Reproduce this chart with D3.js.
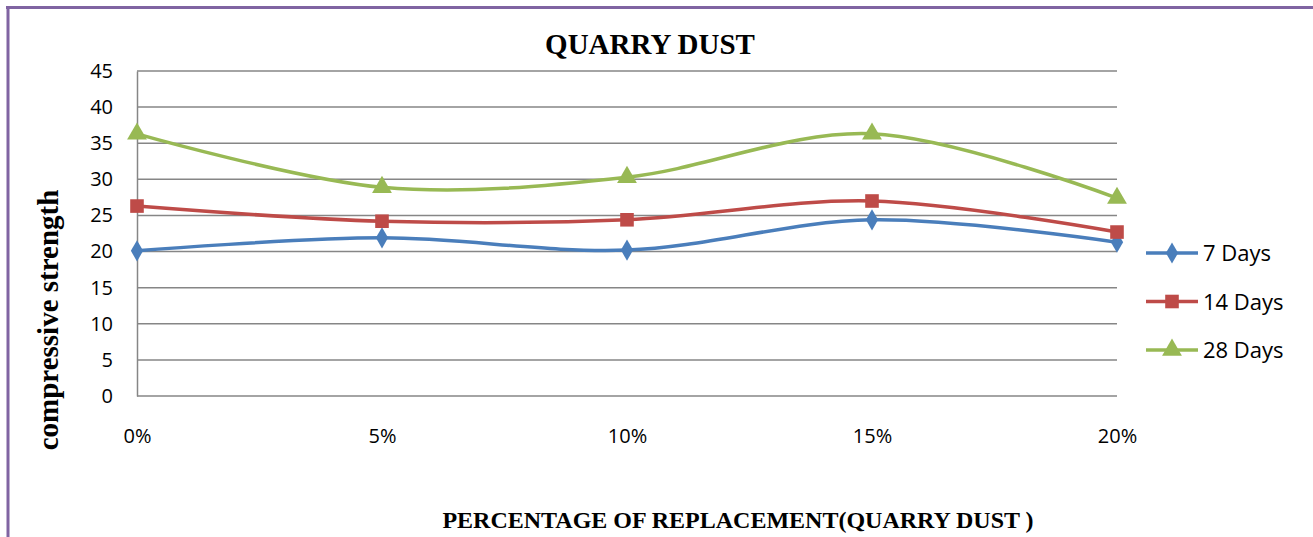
<!DOCTYPE html>
<html>
<head>
<meta charset="utf-8">
<script src="https://cdn.jsdelivr.net/npm/d3@7"></script>
<style>
  body { margin: 0; background: #fff; }
  svg { display: block; }
</style>
</head>
<body>
<svg id="chart" width="1313" height="537"></svg>
<script>
// data
const categories = ["0%", "5%", "10%", "15%", "20%"];
const days7 = [20.1, 21.9, 20.2, 24.4, 21.3];
const days14 = [26.3, 24.2, 24.4, 27.0, 22.7];
const days28 = [36.3, 28.9, 30.3, 36.3, 27.4];
const yTicks = [0, 5, 10, 15, 20, 25, 30, 35, 40, 45];

const series = [
  {name: "7 Days", values: days7, color: "#4A7EBB", marker: d3.symbolDiamond, size: 130},
  {name: "14 Days", values: days14, color: "#BE4B48", marker: d3.symbolSquare, size: 185},
  {name: "28 Days", values: days28, color: "#98B954", marker: d3.symbolTriangle, size: 170}
];

const svg = d3.select("#chart");

// purple frame (top + left edges)
svg.append("rect").attr("x", 0).attr("y", 0).attr("width", 1313).attr("height", 537).attr("fill", "#fff");
svg.append("line").attr("x1", 6).attr("x2", 1313).attr("y1", 7.5).attr("y2", 7.5)
  .attr("stroke", "#8064A2").attr("stroke-width", 3);
svg.append("line").attr("x1", 8).attr("x2", 8).attr("y1", 6).attr("y2", 537)
  .attr("stroke", "#8064A2").attr("stroke-width", 3);

const plot = {left: 137, right: 1117, top: 71, bottom: 396};

const x = d3.scalePoint().domain(categories).range([plot.left, plot.right]);
const y = d3.scaleLinear().domain([0, 45]).range([plot.bottom, plot.top]);

const tickFont = "'Open Sans', sans-serif";
const serif = "'Liberation Serif', 'Times New Roman', serif";

// gridlines
svg.append("g")
  .selectAll("line").data(yTicks).join("line")
  .attr("x1", plot.left).attr("x2", plot.right)
  .attr("y1", d => y(d)).attr("y2", d => y(d))
  .attr("stroke", "#868686").attr("stroke-width", 1.5);

// y axis
const yAxis = svg.append("g").attr("transform", `translate(${plot.left},0)`)
  .call(d3.axisLeft(y).tickValues(yTicks).tickSize(0).tickPadding(24));
yAxis.select(".domain").attr("stroke", "#868686").attr("stroke-width", 1.5);
yAxis.selectAll("text").attr("font-family", tickFont).attr("font-size", 20).attr("fill", "#000");

// x axis labels
const xAxis = svg.append("g").attr("transform", `translate(0,${plot.bottom})`)
  .call(d3.axisBottom(x).tickSize(0).tickPadding(33));
xAxis.select(".domain").remove();
xAxis.selectAll("text").attr("font-family", tickFont).attr("font-size", 20).attr("fill", "#000");

// smoothed lines
const line = d3.line()
  .x((d, i) => x(categories[i]))
  .y(d => y(d))
  .curve(d3.curveCardinal.tension(0));

series.forEach(s => {
  svg.append("path")
    .attr("d", line(s.values))
    .attr("fill", "none")
    .attr("stroke", s.color)
    .attr("stroke-width", 3.5);
  svg.append("g").selectAll("path").data(s.values).join("path")
    .attr("transform", (d, i) => `translate(${x(categories[i])},${y(d)})`)
    .attr("d", d3.symbol().type(s.marker).size(s.size))
    .attr("fill", s.color);
});

// titles
svg.append("text")
  .attr("x", 650).attr("y", 54)
  .attr("text-anchor", "middle")
  .attr("font-family", serif)
  .attr("font-weight", "bold").attr("font-size", 29)
  .text("QUARRY DUST");

svg.append("text")
  .attr("transform", "translate(58,320) rotate(-90)")
  .attr("text-anchor", "middle")
  .attr("font-family", serif)
  .attr("font-weight", "bold").attr("font-size", 29)
  .text("compressive strength");

svg.append("text")
  .attr("x", 738).attr("y", 528)
  .attr("text-anchor", "middle")
  .attr("font-family", serif)
  .attr("font-weight", "bold").attr("font-size", 24)
  .text("PERCENTAGE OF REPLACEMENT(QUARRY DUST )");

// legend
const lg = svg.append("g").selectAll("g").data(series).join("g")
  .attr("transform", (d, i) => `translate(1146,${253 + i * 48.5})`);
lg.append("line").attr("x1", 0).attr("x2", 52).attr("y1", 0).attr("y2", 0)
  .attr("stroke", d => d.color).attr("stroke-width", 3.5);
lg.append("path")
  .attr("transform", "translate(26,0)")
  .attr("d", d => d3.symbol().type(d.marker).size(d.size)())
  .attr("fill", d => d.color);
lg.append("text")
  .attr("x", 57).attr("y", 8)
  .attr("font-family", tickFont).attr("font-size", 22)
  .text(d => d.name);
</script>
</body>
</html>
